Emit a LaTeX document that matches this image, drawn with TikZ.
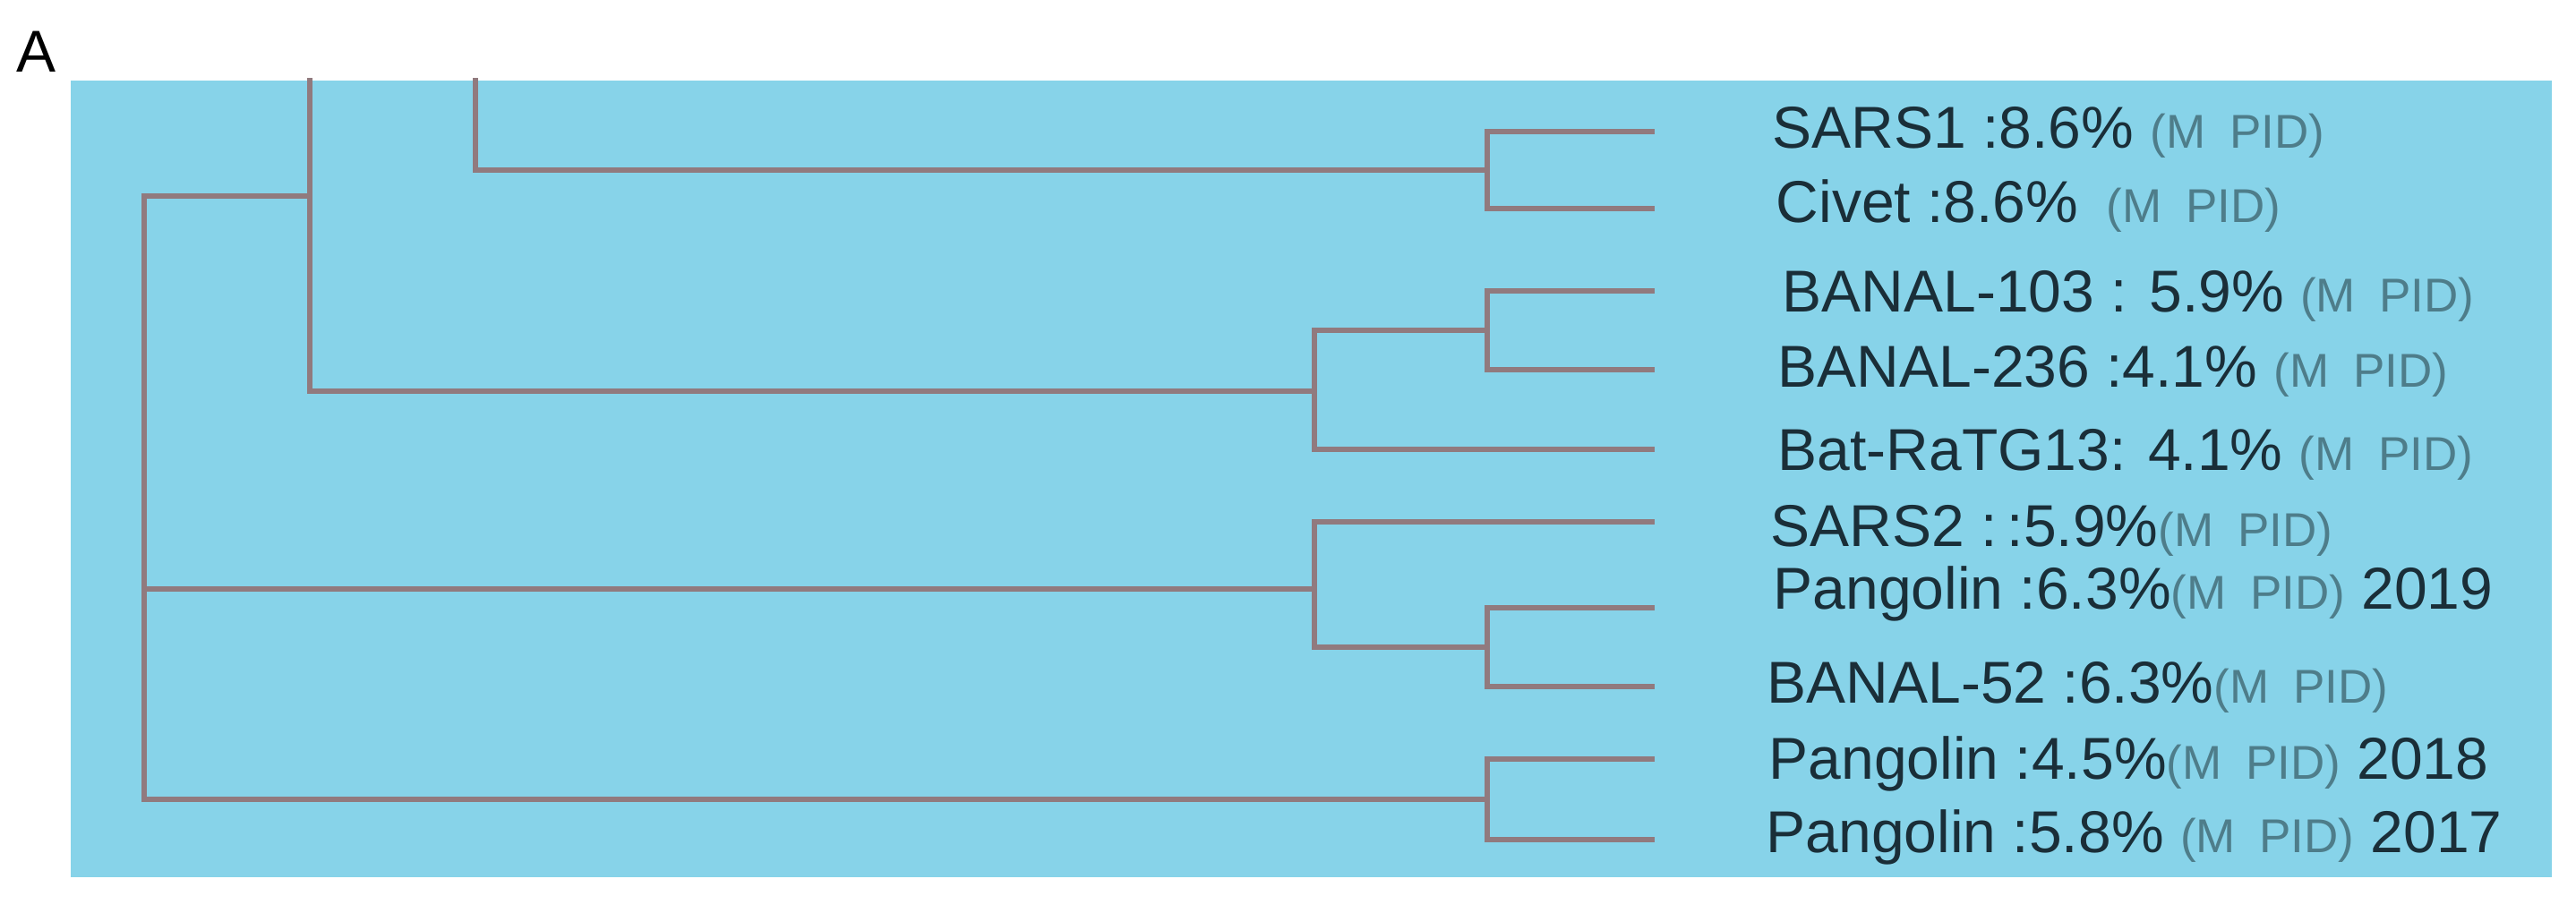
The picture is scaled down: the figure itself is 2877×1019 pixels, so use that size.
\documentclass[tikz,border=0pt]{standalone}
\usepackage{fontspec}
\setmainfont{Liberation Sans}
\definecolor{bg}{RGB}{135,211,233}
\definecolor{br}{RGB}{145,122,126}
\definecolor{txt}{RGB}{26,46,56}
\definecolor{pid}{RGB}{78,125,138}
\newcommand{\pidf}{{\fontsize{13.25}{15}\selectfont\color{pid}(M\hspace{0.5em}PID)}}
\begin{document}
\begin{tikzpicture}[x=0.25pt,y=-0.25pt,
  branch/.style={draw=br,line width=1.6pt,line join=miter},
  lab/.style={anchor=base west,inner sep=0pt,text=txt,font=\fontsize{16.5}{19}\selectfont}]
\useasboundingbox (0,0) rectangle (2877,1019);
\fill[bg] (79,90) rectangle (2850,980);
\node[anchor=base west,inner sep=0pt,font=\fontsize{16.5}{19}\selectfont] (panel) at (18,80) {A};

% internal nodes
\coordinate (root) at (161,556);
\coordinate (nA) at (346,219);
\coordinate (topA) at (346,87);
\coordinate (topB) at (531,87);
\coordinate (nS1) at (1661,190);
\coordinate (nBat) at (1468,437);
\coordinate (nB1) at (1661,369);
\coordinate (nS2) at (1468,658);
\coordinate (nP19) at (1661,723);
\coordinate (nPg) at (1661,893);
% tips
\coordinate (tS1) at (1848,147);
\coordinate (tCv) at (1848,233);
\coordinate (tB103) at (1848,325);
\coordinate (tB236) at (1848,413);
\coordinate (tRa) at (1848,502);
\coordinate (tS2) at (1848,583);
\coordinate (tP19) at (1848,679);
\coordinate (tB52) at (1848,767);
\coordinate (tP18) at (1848,848);
\coordinate (tP17) at (1848,938);

% branches
\draw[branch] (root) |- (nA);
\draw[branch] (root) |- (nS2);
\draw[branch] (root) |- (nPg);
\draw[branch] (nA) -- (topA);
\draw[branch] (nA) |- (nBat);
\draw[branch] (topB) |- (nS1);
\draw[branch] (nS1) |- (tS1);
\draw[branch] (nS1) |- (tCv);
\draw[branch] (nBat) |- (nB1);
\draw[branch] (nBat) |- (tRa);
\draw[branch] (nB1) |- (tB103);
\draw[branch] (nB1) |- (tB236);
\draw[branch] (nS2) |- (tS2);
\draw[branch] (nS2) |- (nP19);
\draw[branch] (nP19) |- (tP19);
\draw[branch] (nP19) |- (tB52);
\draw[branch] (nPg) |- (tP18);
\draw[branch] (nPg) |- (tP17);

% labels
\node[lab] (lS1) at (1979,165) {SARS1 :8.6\% \pidf};
\node[lab] (lCv) at (1983,248) {Civet :8.6\%\hspace{0.2em} \pidf};
\node[lab] (lB103) at (1990,348) {BANAL-103 : 5.9\% \pidf};
\node[lab] (lB236) at (1985,432) {BANAL-236 :4.1\% \pidf};
\node[lab] (lRa) at (1985,525) {Bat-RaTG13: 4.1\% \pidf};
\node[lab] (lS2) at (1977,610) {SARS2 :\,:5.9\%\pidf};
\node[lab] (lP19) at (1980,680) {Pangolin :6.3\%\pidf\ 2019};
\node[lab] (lB52) at (1973,785) {BANAL-52 :6.3\%\pidf};
\node[lab] (lP18) at (1975,870) {Pangolin :4.5\%\pidf\ 2018};
\node[lab] (lP17) at (1972,952) {Pangolin :5.8\% \pidf\ 2017};
\end{tikzpicture}
\end{document}
